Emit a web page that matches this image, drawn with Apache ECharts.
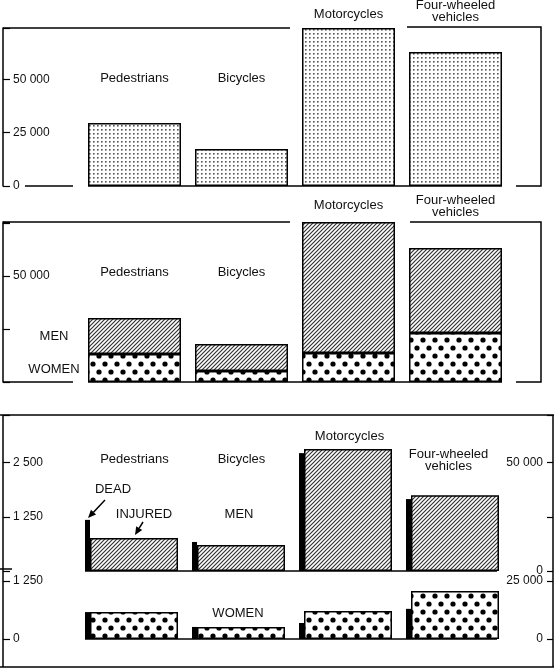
<!DOCTYPE html>
<html>
<head>
<meta charset="utf-8">
<script src="https://cdn.jsdelivr.net/npm/echarts@6.0.0/dist/echarts.min.js"></script>
<style>
  html, body { margin: 0; padding: 0; background: #fff; }
  #main { width: 554px; height: 668px; }
</style>
</head>
<body>
<div id="main"></div>
<script>
// categories shared by the three panels
var categories = ['Pedestrians', 'Bicycles', 'Motorcycles', 'Four-wheeled\nvehicles'];

// panel 1: all casualties
var totalCasualties = [29500, 17300, 74000, 62800];

// panel 2: casualties by sex
var womenCasualties = [13200, 5200, 13700, 23100];
var menCasualties = [17000, 12700, 61800, 40100];

// panel 3: dead (left scale) and injured (right scale)
var menDead = [1180, 670, 2720, 1660];
var menInjured = [15200, 12000, 56300, 35000];
var womenDead = [580, 260, 345, 650];
var womenInjured = [11600, 5200, 12100, 20700];

// tick labels shown on each axis
var ticks1 = [0, 25000, 50000];
var ticks2 = [50000];
var ticksMenDead = [1250, 2500];
var ticksMenInj = [0, 50000];
var ticksWomenDead = [0, 1250];
var ticksWomenInj = [0, 25000];

var chart = echarts.init(document.getElementById('main'));

function fmt(v) {
    return String(v).replace(/\B(?=(\d{3})+(?!\d))/g, ' ');
}

// patterns
function finePattern() {
    var c = document.createElement('canvas');
    c.width = 4; c.height = 4;
    var ctx = c.getContext('2d');
    ctx.fillStyle = '#fff';
    ctx.fillRect(0, 0, 4, 4);
    ctx.fillStyle = '#555';
    ctx.fillRect(1, 1, 1.6, 1.6);
    return {image: c, repeat: 'repeat'};
}
function hatchPattern() {
    var c = document.createElement('canvas');
    var s = 4;
    c.width = s; c.height = s;
    var ctx = c.getContext('2d');
    ctx.fillStyle = '#fff';
    ctx.fillRect(0, 0, s, s);
    ctx.strokeStyle = '#333';
    ctx.lineWidth = 1.2;
    ctx.beginPath();
    ctx.moveTo(0, s); ctx.lineTo(s, 0);
    ctx.moveTo(-1, 1); ctx.lineTo(1, -1);
    ctx.moveTo(s - 1, s + 1); ctx.lineTo(s + 1, s - 1);
    ctx.stroke();
    return {image: c, repeat: 'repeat'};
}
function bigDotPattern() {
    var c = document.createElement('canvas');
    c.width = 12; c.height = 16;
    var ctx = c.getContext('2d');
    ctx.fillStyle = '#fff';
    ctx.fillRect(0, 0, 12, 16);
    ctx.fillStyle = '#000';
    [[3, 4], [9, 12]].forEach(function (p) {
        ctx.beginPath();
        ctx.arc(p[0], p[1], 2.6, 0, Math.PI * 2);
        ctx.fill();
    });
    return {image: c, repeat: 'repeat'};
}

var fine = finePattern(), hatch = hatchPattern(), bigDots = bigDotPattern();
var numFont = '"Liberation Sans", Arial, sans-serif';
var txtFont = '"Liberation Sans", Arial, sans-serif';

function xAx(grid) {
    return {
        type: 'category', gridIndex: grid, data: categories,
        axisLine: {show: false},
        axisTick: {show: false}, axisLabel: {show: false}, splitLine: {show: false}
    };
}
function yAx(grid, pos, offset, max, interval, shown, showLine, raise) {
    return {
        type: 'value', gridIndex: grid, position: pos, offset: offset,
        min: 0, max: max, interval: interval,
        axisLine: {show: showLine, lineStyle: {color: '#000', width: 1.5}},
        axisTick: {show: true, inside: true, length: pos === 'left' ? 7 : 6,
            lineStyle: {color: '#000', width: 1.2}},
        axisLabel: {
            inside: true, margin: 10, color: '#111', fontSize: 12, fontFamily: numFont,
            padding: [0, 0, raise || 0, 0],
            formatter: function (v) { return shown.indexOf(v) >= 0 ? fmt(v) : ''; }
        },
        splitLine: {show: false}
    };
}

var border = {borderColor: '#000', borderWidth: 1.5};

var option = {
    backgroundColor: '#fff',
    animation: false,
    grid: [
        {left: 81, width: 428, top: 28, height: 158},
        {left: 81, width: 428, top: 222, height: 160},
        {left: 78, width: 428, top: 415, height: 156},
        {left: 78, width: 428, top: 581, height: 58}
    ],
    xAxis: [xAx(0), xAx(1), xAx(2), xAx(3)],
    yAxis: [
        yAx(0, 'left', 78, 74000, 25000, ticks1, true, 7),
        yAx(1, 'left', 78, 75500, 25000, ticks2, true, 8),
        yAx(2, 'left', 75, 3600, 1250, ticksMenDead, false),
        yAx(2, 'right', 47, 72000, 25000, ticksMenInj, false, 2),
        yAx(3, 'left', 75, 1250, 1250, ticksWomenDead, false),
        yAx(3, 'right', 47, 25000, 25000, ticksWomenInj, false)
    ],
    series: [
        {name: 'All', type: 'bar', xAxisIndex: 0, yAxisIndex: 0, barWidth: 93,
            data: totalCasualties, itemStyle: Object.assign({color: fine}, border)},
        {name: 'Women', type: 'bar', xAxisIndex: 1, yAxisIndex: 1, barWidth: 93, stack: 'sex',
            data: womenCasualties, itemStyle: Object.assign({color: bigDots}, border)},
        {name: 'Men', type: 'bar', xAxisIndex: 1, yAxisIndex: 1, barWidth: 93, stack: 'sex',
            data: menCasualties, itemStyle: Object.assign({color: hatch}, border)},
        {name: 'Men dead', type: 'bar', xAxisIndex: 2, yAxisIndex: 2, barWidth: 5, barGap: '0%',
            data: menDead, itemStyle: {color: '#000'}},
        {name: 'Men injured', type: 'bar', xAxisIndex: 2, yAxisIndex: 3, barWidth: 88, barGap: '0%',
            data: menInjured, itemStyle: Object.assign({color: hatch}, border)},
        {name: 'Women dead', type: 'bar', xAxisIndex: 3, yAxisIndex: 4, barWidth: 5, barGap: '0%',
            data: womenDead, itemStyle: {color: '#000'}},
        {name: 'Women injured', type: 'bar', xAxisIndex: 3, yAxisIndex: 5, barWidth: 88, barGap: '0%',
            data: womenInjured, itemStyle: Object.assign({color: bigDots}, border)}
    ]
};
chart.setOption(option);

// frames, baselines, labels and arrows
var g = [];
function line(pts, w) {
    g.push({type: 'polyline', silent: true, shape: {points: pts},
        style: {stroke: '#000', lineWidth: w || 1.5, fill: null}});
}
function text(str, x, y, font) {
    g.push({type: 'text', silent: true, x: x, y: y,
        style: {text: str, fill: '#111', font: font || ('13px ' + txtFont),
            textAlign: 'center', textVerticalAlign: 'middle', lineHeight: 12}});
}
function arrow(x0, y0, x1, y1) {
    var dx = x1 - x0, dy = y1 - y0, len = Math.sqrt(dx * dx + dy * dy);
    var ux = dx / len, uy = dy / len;
    var bx = x1 - ux * 8, by = y1 - uy * 8;
    line([[x0, y0], [bx, by]], 1.5);
    g.push({type: 'polygon', silent: true,
        shape: {points: [[x1, y1], [bx - uy * 3.5, by + ux * 3.5], [bx + uy * 3.5, by - ux * 3.5]]},
        style: {fill: '#000'}});
}

// panel 1 frame
line([[3, 28], [290, 28]]);
line([[407, 27], [541, 27], [541, 186], [516, 186]]);
line([[25, 186], [73, 186]]);
line([[88, 186], [502, 186]]);
// panel 2 frame
line([[3, 222], [290, 222]]);
line([[410, 222], [541, 222], [541, 382], [516, 382]]);
line([[3, 382], [73, 382]]);
line([[88, 382], [502, 382]]);
// panel 3 frame
line([[0, 415], [554, 415]]);
line([[3, 415], [3, 667]]);
line([[0, 667], [554, 667]]);
line([[553, 415], [553, 667]]);
line([[0, 569], [12, 569]]);
line([[85, 571], [497, 571]]);
line([[85, 639], [497, 639]]);

var y1 = [78, 78, 14, 11];
var y2 = [272, 272, 205, 206];
var y3 = [459, 459, 436, 460];
var dx3 = [3, 3, 4, -4];
categories.forEach(function (c, i) {
    var x0 = chart.convertToPixel({xAxisIndex: 0}, c);
    var x1 = chart.convertToPixel({xAxisIndex: 1}, c);
    var x2 = chart.convertToPixel({xAxisIndex: 2}, c);
    text(c, x0, y1[i]);
    text(c, x1, y2[i]);
    text(c, x2 + dx3[i], y3[i]);
});

text('MEN', 54, 336);
text('WOMEN', 54, 369);
text('DEAD', 113, 489);
text('INJURED', 144, 514);
text('MEN', 239, 514);
text('WOMEN', 238, 613);
arrow(105, 500, 88, 518);
arrow(143, 522, 135, 535);

chart.setOption({graphic: g});
</script>
</body>
</html>
